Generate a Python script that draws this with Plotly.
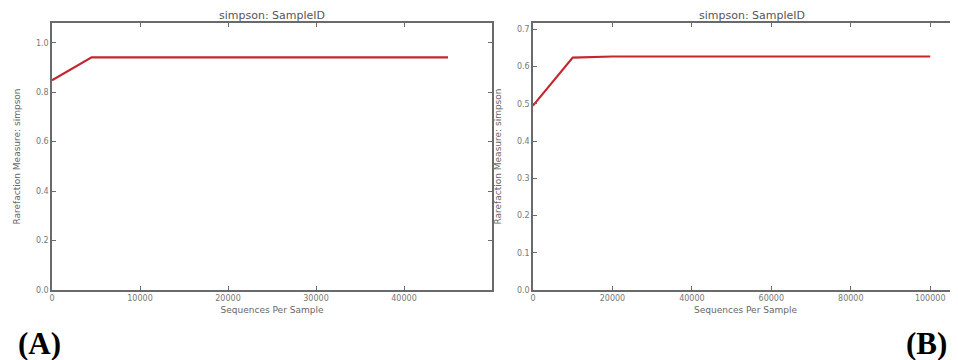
import plotly.graph_objects as go

# Panel A data
seqs_a = [0, 4500, 9000, 13500, 18000, 22500, 27000, 31500, 36000, 40500, 45000]
simpson_a = [0.848, 0.941, 0.941, 0.941, 0.941, 0.941, 0.941, 0.941, 0.941, 0.941, 0.941]
xticks_a = [0, 10000, 20000, 30000, 40000]
yticks_a = [0.0, 0.2, 0.4, 0.6, 0.8, 1.0]

# Panel B data
seqs_b = [0, 10000, 20000, 30000, 40000, 50000, 60000, 70000, 80000, 90000, 100000]
simpson_b = [0.495, 0.624, 0.627, 0.627, 0.627, 0.627, 0.627, 0.627, 0.627, 0.627, 0.627]
xticks_b = [0, 20000, 40000, 60000, 80000, 100000]
yticks_b = [0.0, 0.1, 0.2, 0.3, 0.4, 0.5, 0.6, 0.7]

title_txt = "simpson: SampleID"
xtitle = "Sequences Per Sample"
ytitle = "Rarefaction Measure: simpson"

OFF = 8  # page body margin
W, H = 958 - OFF, 360 - OFF


def px(x):
    return (x - OFF) / W


def py(y):
    return 1 - (y - OFF) / H


line_col = "#c4262e"
axis_col = "#6a6a6a"
tick_font = dict(family="DejaVu Sans", size=8, color="#777777")
lab_font = dict(family="DejaVu Sans", size=9, color="#666666")

fig = go.Figure()
fig.add_trace(go.Scatter(x=seqs_a, y=simpson_a, mode="lines",
                         line=dict(color=line_col, width=2.2), xaxis="x", yaxis="y",
                         showlegend=False))
fig.add_trace(go.Scatter(x=seqs_b, y=simpson_b, mode="lines",
                         line=dict(color=line_col, width=2.2), xaxis="x2", yaxis="y2",
                         showlegend=False))

ydom = [py(290), py(23)]

common_x = dict(showline=True, linecolor=axis_col, linewidth=1.5, ticks="inside",
                ticklen=4, tickcolor=axis_col, showgrid=False, zeroline=False,
                tickfont=tick_font, mirror="allticks", automargin=False,
                tickformat="d",
                title=dict(text=xtitle, font=lab_font, standoff=4))
common_y = dict(showline=True, linecolor=axis_col, linewidth=1.5, ticks="inside",
                ticklen=4, tickcolor=axis_col, showgrid=False, zeroline=False,
                tickfont=tick_font, tickformat=".1f", automargin=False,
                title=dict(text=ytitle, font=lab_font, standoff=14))

fig.update_layout(
    width=W, height=H,
    margin=dict(l=0, r=0, t=0, b=0),
    paper_bgcolor="white", plot_bgcolor="white",
    xaxis=dict(common_x, domain=[px(52), px(492)], range=[0, 50000],
               tickvals=xticks_a, anchor="y"),
    yaxis=dict(common_y, domain=ydom, range=[0, 1.08], tickvals=yticks_a,
               anchor="x", mirror="allticks"),
    xaxis2=dict(common_x, domain=[px(533), 1.0], range=[0, 107000],
                tickvals=xticks_b, anchor="y2"),
    yaxis2=dict(common_y, domain=ydom, range=[0, 0.717], tickvals=yticks_b,
                anchor="x2", mirror=False),
)

fig.add_annotation(text=title_txt, x=px(272), y=py(16), xref="paper",
                   yref="paper", showarrow=False, xanchor="center", yanchor="middle",
                   font=dict(family="DejaVu Sans", size=11, color="#555555"))
fig.add_annotation(text=title_txt, x=px(752), y=py(16), xref="paper",
                   yref="paper", showarrow=False, xanchor="center", yanchor="middle",
                   font=dict(family="DejaVu Sans", size=11, color="#555555"))
fig.add_annotation(text="<b>(A)</b>", x=px(16), y=py(343), xref="paper", yref="paper",
                   xanchor="left", yanchor="middle", showarrow=False,
                   font=dict(family="Liberation Serif", size=31, color="black"))
fig.add_annotation(text="<b>(B)</b>", x=px(949), y=py(343), xref="paper", yref="paper",
                   xanchor="right", yanchor="middle", showarrow=False,
                   font=dict(family="Liberation Serif", size=31, color="black"))

fig.write_html("out.html")
